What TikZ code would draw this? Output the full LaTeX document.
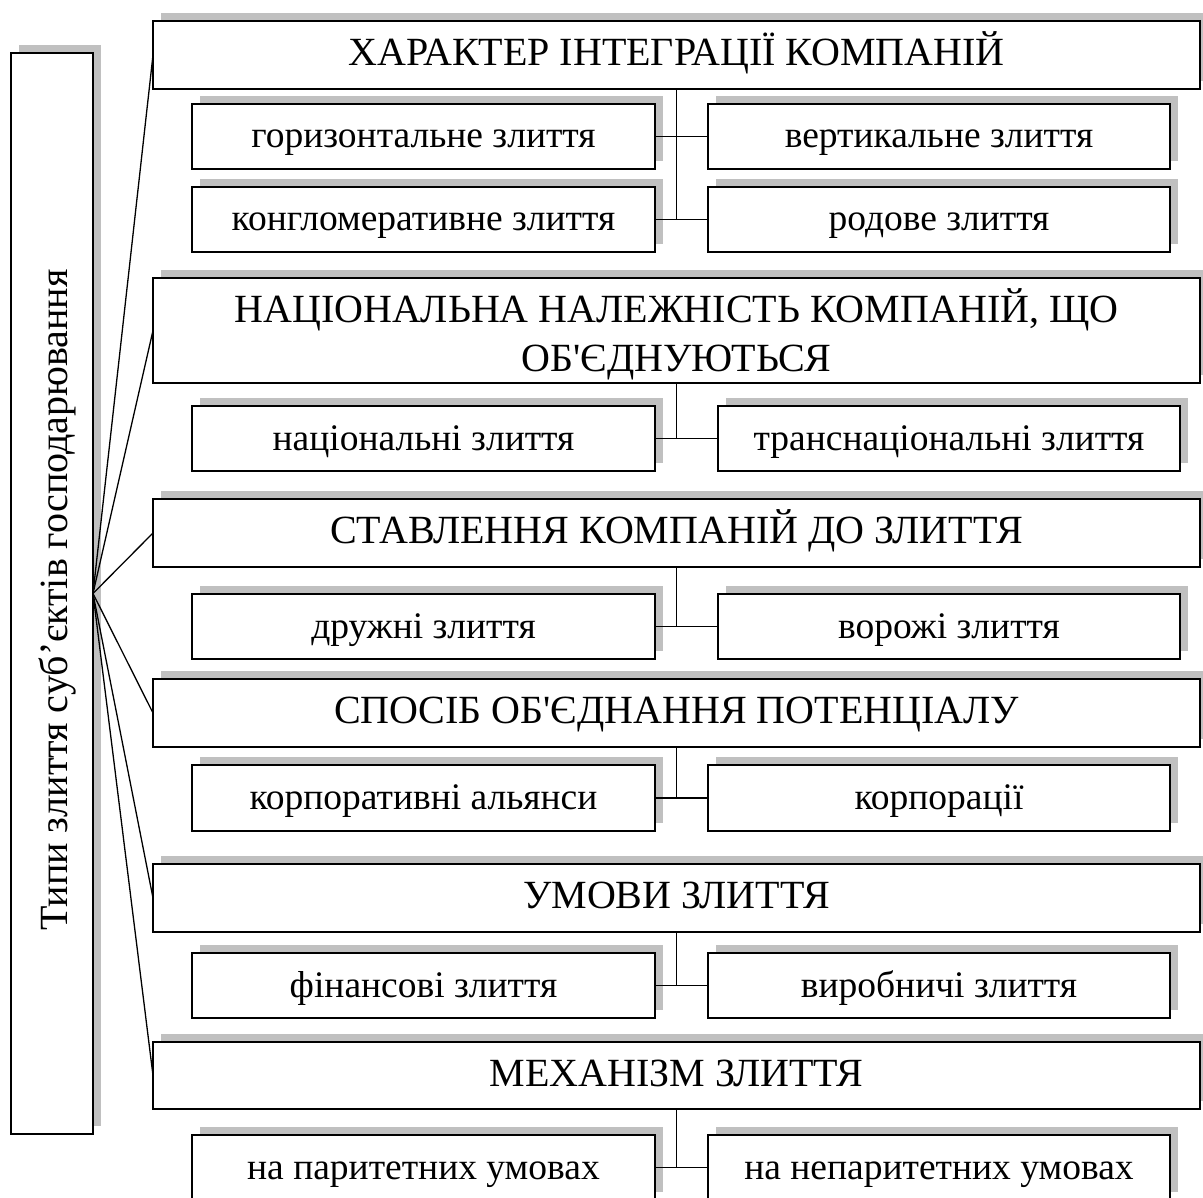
\documentclass[tikz,border=0pt]{standalone}
\usepackage{fontspec}
\setmainfont{Liberation Serif}[Ligatures=TeXOff]
\usetikzlibrary{shadows}
\definecolor{shadowgray}{RGB}{192,192,192}
\tikzset{
  box/.style={draw, fill=white, line width=1.5pt, inner sep=0pt, outer sep=0pt,
    general shadow={fill=shadowgray, shadow xshift=8pt, shadow yshift=8pt}},
  hdr/.style={box, minimum width=1047pt, font=\fontsize{40}{49}\selectfont,
    text height=24pt, text depth=3pt},
  subl/.style={box, minimum width=463pt, minimum height=65pt,
    font=\fontsize{37.5}{45}\selectfont, text height=25pt, text depth=2pt},
  subr/.style={subl, minimum width=462pt},
  conn/.style={line width=1.5pt},
  fan/.style={line width=1.3pt},
}
\begin{document}
\begin{tikzpicture}[x=1pt, y=-1pt]
\useasboundingbox (0,0) rectangle (1203,1198);
% left box
\node[box, minimum width=82pt, minimum height=1081pt] (L) at (52,593.5) {};
\node[rotate=90, font=\fontsize{40}{49}\selectfont, inner sep=0pt,
  text height=33pt, text depth=3pt] (Lt) at (52,600) {Типи злиття суб’єктів господарювання};
% group 1
\node[hdr, minimum height=68pt] (h1) at (676.5,55) {ХАРАКТЕР ІНТЕГРАЦІЇ КОМПАНІЙ};
\node[subl] (s1a) at (423.5,136.5) {горизонтальне злиття};
\node[subr] (s1b) at (939,136.5) {вертикальне злиття};
\node[subl] (s1c) at (423.5,219.5) {конгломеративне злиття};
\node[subr] (s1d) at (939,219.5) {родове злиття};
% group 2
\node[hdr, minimum height=105pt, text height=86pt, text depth=3pt] (h2) at (676.5,330.5)
  {\vbox{\halign{\hfil#\hfil\cr НАЦІОНАЛЬНА НАЛЕЖНІСТЬ КОМПАНІЙ, ЩО\cr ОБ'ЄДНУЮТЬСЯ\cr}}};
\node[subl] (s2a) at (423.5,438.5) {національні злиття};
\node[subr] (s2b) at (949,438.5) {транснаціональні злиття};
% group 3
\node[hdr, minimum height=68pt] (h3) at (676.5,533) {СТАВЛЕННЯ КОМПАНІЙ ДО ЗЛИТТЯ};
\node[subl] (s3a) at (423.5,626.5) {дружні злиття};
\node[subr] (s3b) at (949,626.5) {ворожі злиття};
% group 4
\node[hdr, minimum height=68pt] (h4) at (676.5,713) {СПОСІБ ОБ'ЄДНАННЯ ПОТЕНЦІАЛУ};
\node[subl, minimum height=66pt] (s4a) at (423.5,798) {корпоративні альянси};
\node[subr, minimum height=66pt] (s4b) at (939,798) {корпорації};
% group 5
\node[hdr, minimum height=68pt] (h5) at (676.5,898) {УМОВИ ЗЛИТТЯ};
\node[subl] (s5a) at (423.5,985.5) {фінансові злиття};
\node[subr] (s5b) at (939,985.5) {виробничі злиття};
% group 6
\node[hdr, minimum height=67pt] (h6) at (676.5,1075.5) {МЕХАНІЗМ ЗЛИТТЯ};
\node[subl] (s6a) at (423.5,1167.5) {на паритетних умовах};
\node[subr] (s6b) at (939,1167.5) {на непаритетних умовах};
% fan connectors
\foreach \h in {h1,h2,h3,h4,h5,h6} \draw[fan] (L.east) -- (\h.west);
% group connectors
\draw[conn] (h1.south) -- (h1.south |- s1c.east);
\draw[conn] (s1a.east) -- (s1b.west);
\draw[conn] (s1c.east) -- (s1d.west);
\foreach \g in {2,3,4,5,6} {
  \draw[conn] (h\g.south) -- (h\g.south |- s\g a.east);
  \draw[conn] (s\g a.east) -- (s\g b.west);
}
\end{tikzpicture}
\end{document}
